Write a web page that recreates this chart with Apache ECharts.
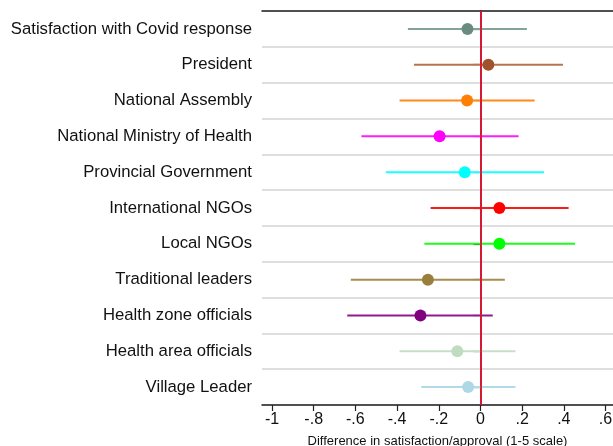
<!DOCTYPE html>
<html><head><meta charset="utf-8">
<script src="https://cdn.jsdelivr.net/npm/echarts@6/dist/echarts.min.js"></script>
<style>html,body{margin:0;padding:0;background:#fff}#c{width:613px;height:446px}</style>
</head><body><div id="c"></div>
<script>
const categories = ['Satisfaction with Covid response','President','National Assembly','National Ministry of Health','Provincial Government','International NGOs','Local NGOs','Traditional leaders','Health zone officials','Health area officials','Village Leader'];
const estimates = [-0.062, 0.038, -0.064, -0.196, -0.075, 0.091, 0.091, -0.252, -0.288, -0.111, -0.059];
const ciLow     = [-0.348, -0.319, -0.388, -0.571, -0.454, -0.239, -0.269, -0.622, -0.639, -0.388, -0.284];
const ciHigh    = [0.223, 0.396, 0.260, 0.183, 0.305, 0.423, 0.454, 0.117, 0.059, 0.168, 0.168];
const markerColors = ['#6a8c80','#a0522d','#ff7f00','#ff00ff','#00ffff','#ff0000','#00ff00','#9a7f3c','#800080','#c0dcc0','#add8e6'];
const lineColors   = ['#83a398','#b7744f','#ff8a1a','#ff1aff','#1affff','#ff1a1a','#1aff1a','#a68d4f','#8f1a8f','#c6dfc6','#b2dbe8'];
const tickValues = [-1,-0.8,-0.6,-0.4,-0.2,0,0.2,0.4,0.6];
const axisTitle = 'Difference in satisfaction/approval (1-5 scale)';

function fmt(v){ if (Math.abs(v) < 1e-9) return '0'; return (Math.round(v*10)/10).toString().replace('0.', '.'); }

const chart = echarts.init(document.getElementById('c'), null, {renderer:'canvas'});
const FONT = 'Liberation Sans, Arial, sans-serif';
const ciData = categories.map((c,i)=>[ciLow[i], ciHigh[i], i]);
const ptData = categories.map((c,i)=>({value:[estimates[i], i], itemStyle:{color:markerColors[i], opacity:1}}));
const xMin = -1.048, xMax = 0.636;
chart.setOption({
  animation:false,
  backgroundColor:'#fff',
  grid:{left:262, right:0, top:11, bottom:41, containLabel:false, outerBoundsMode:'none'},
  xAxis:[{
    type:'value', min:xMin, max:xMax, position:'bottom',
    axisLine:{show:true, onZero:false, lineStyle:{color:'#222', width:1.5}},
    axisTick:{show:true, length:6, customValues:tickValues, lineStyle:{color:'#222', width:1.2}},
    axisLabel:{show:true, customValues:tickValues, formatter:fmt, color:'#111', fontSize:16, fontFamily:FONT, margin:7},
    splitLine:{show:false},
    name:axisTitle, nameLocation:'middle', nameGap:30,
    nameTextStyle:{color:'#111', fontSize:13, fontFamily:FONT}
  },{
    type:'value', min:xMin, max:xMax, position:'top',
    axisLine:{show:true, onZero:false, lineStyle:{color:'#222', width:1.5}},
    axisTick:{show:false}, axisLabel:{show:false}, splitLine:{show:false}
  }],
  yAxis:{
    type:'category', data:categories, inverse:true, boundaryGap:true,
    axisLine:{show:true, lineStyle:{color:'#222', width:1.5}},
    axisTick:{show:true, alignWithLabel:true, length:7, lineStyle:{color:'#222', width:1.2}},
    axisLabel:{color:'#111', fontSize:16.7, fontFamily:FONT, margin:10},
    splitLine:{show:true, lineStyle:{color:'#dedede', width:2}}
  },
  series:[{
    type:'custom', z:2,
    data:ciData,
    renderItem:function(params, api){
      const i = api.value(2);
      const p1 = api.coord([api.value(0), i]);
      const p2 = api.coord([api.value(1), i]);
      return {type:'line', shape:{x1:p1[0], y1:p1[1], x2:p2[0], y2:p2[1]}, style:{stroke:lineColors[i], lineWidth:2}};
    },
    markLine:{silent:true, symbol:['none','none'], label:{show:false}, z:5,
      lineStyle:{color:'#e3122f', width:1.8, type:'solid'}, data:[{xAxis:0}]}
  },{
    type:'scatter', z:6, symbol:'circle', symbolSize:12, data:ptData
  }]
});
</script></body></html>
